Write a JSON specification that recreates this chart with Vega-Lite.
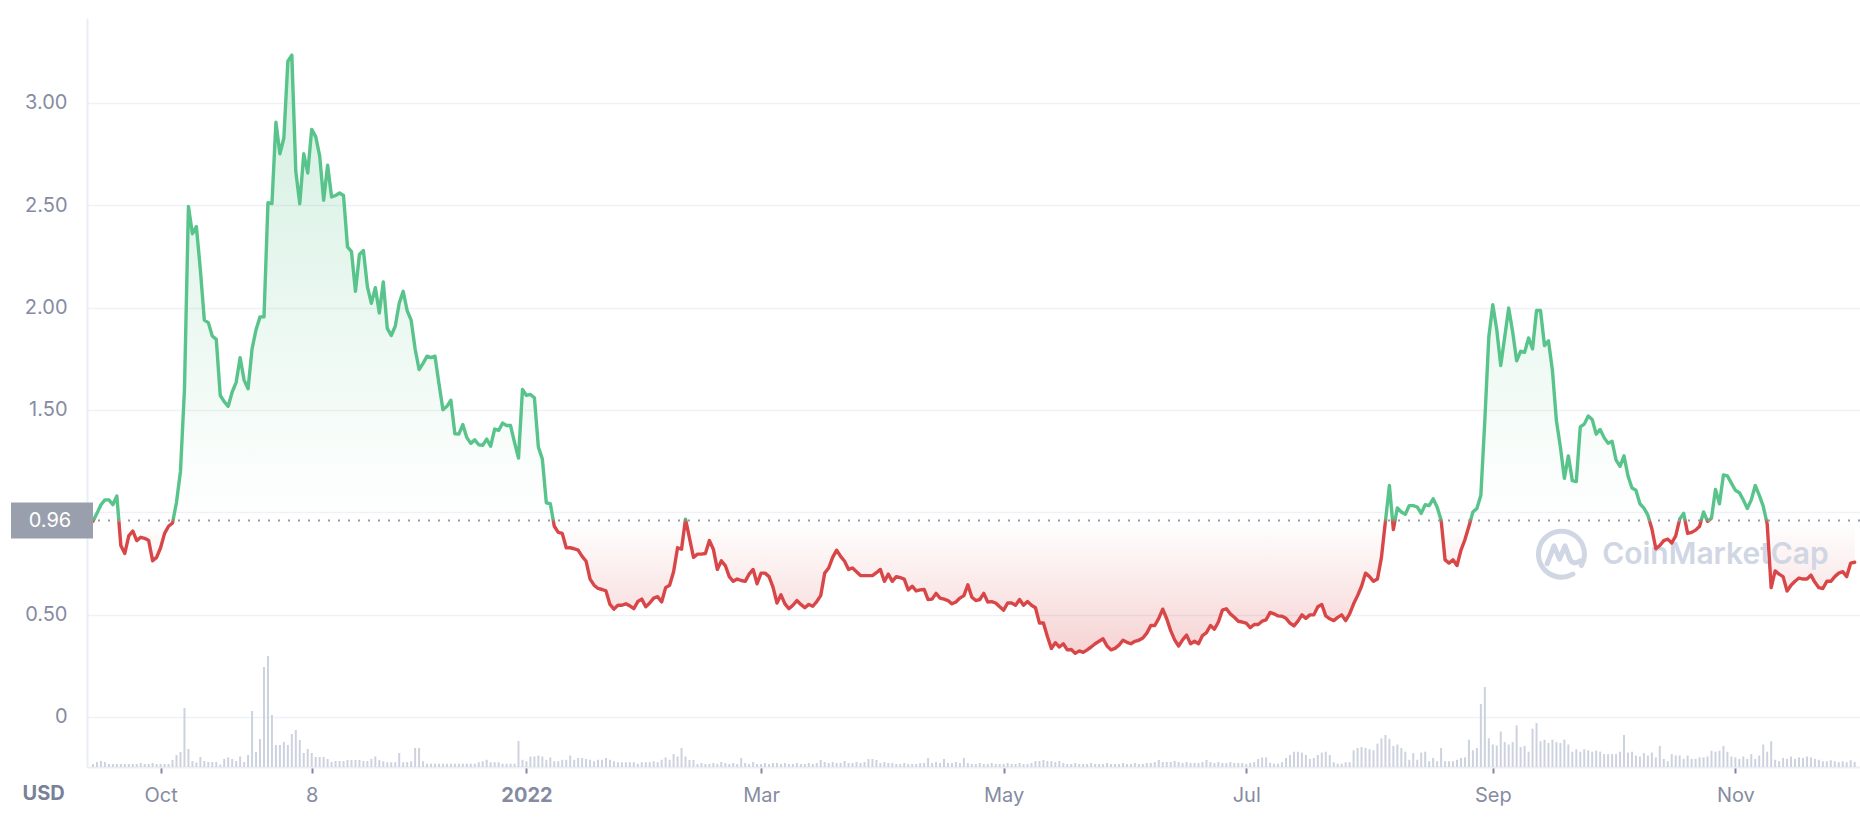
{
"$schema": "https://vega.github.io/schema/vega-lite/v6.json",
"width": 1773, "height": 749,
"autosize": {"type": "none"},
"padding": {"left": 87, "top": 18, "right": 0, "bottom": 51},
"background": "#ffffff",
"config": {"font": "Inter", "view": {"stroke": null}},
"data": {"values": [
{"d":"2021-09-14","p":0.956,"v":3},{"d":"2021-09-15","p":0.995,"v":5},{"d":"2021-09-16","p":1.037,"v":6},{"d":"2021-09-17","p":1.061,"v":5},{"d":"2021-09-18","p":1.061,"v":3},{"d":"2021-09-19","p":1.037,"v":3},{"d":"2021-09-20","p":1.080,"v":3},{"d":"2021-09-21","p":0.838,"v":3},{"d":"2021-09-22","p":0.799,"v":3},{"d":"2021-09-23","p":0.885,"v":3},{"d":"2021-09-24","p":0.909,"v":3},{"d":"2021-09-25","p":0.862,"v":3},{"d":"2021-09-26","p":0.878,"v":4},{"d":"2021-09-27","p":0.873,"v":3},{"d":"2021-09-28","p":0.862,"v":3},{"d":"2021-09-29","p":0.763,"v":4},{"d":"2021-09-30","p":0.780,"v":3},
{"d":"2021-10-01","p":0.827,"v":3},{"d":"2021-10-02","p":0.897,"v":3},{"d":"2021-10-03","p":0.932,"v":3},{"d":"2021-10-04","p":0.948,"v":7},{"d":"2021-10-05","p":1.049,"v":12},{"d":"2021-10-06","p":1.201,"v":15},{"d":"2021-10-07","p":1.60,"v":59},{"d":"2021-10-08","p":2.494,"v":18},{"d":"2021-10-09","p":2.361,"v":6},{"d":"2021-10-10","p":2.396,"v":4.5},{"d":"2021-10-11","p":2.185,"v":10},{"d":"2021-10-12","p":1.939,"v":6},{"d":"2021-10-13","p":1.927,"v":5},{"d":"2021-10-14","p":1.862,"v":5},{"d":"2021-10-15","p":1.845,"v":5},{"d":"2021-10-16","p":1.571,"v":2.5},{"d":"2021-10-17","p":1.541,"v":8},{"d":"2021-10-18","p":1.518,"v":9.6},{"d":"2021-10-19","p":1.588,"v":8},{"d":"2021-10-20","p":1.635,"v":6},{"d":"2021-10-21","p":1.756,"v":10.5},{"d":"2021-10-22","p":1.646,"v":5},{"d":"2021-10-23","p":1.604,"v":12},{"d":"2021-10-24","p":1.799,"v":56},{"d":"2021-10-25","p":1.892,"v":15},{"d":"2021-10-26","p":1.955,"v":28},{"d":"2021-10-27","p":1.955,"v":100},{"d":"2021-10-28","p":2.513,"v":111},{"d":"2021-10-29","p":2.508,"v":52},{"d":"2021-10-30","p":2.906,"v":22},{"d":"2021-10-31","p":2.752,"v":22},
{"d":"2021-11-01","p":2.829,"v":25},{"d":"2021-11-02","p":3.204,"v":22},{"d":"2021-11-03","p":3.234,"v":33},{"d":"2021-11-04","p":2.665,"v":37},{"d":"2021-11-05","p":2.508,"v":27},{"d":"2021-11-06","p":2.752,"v":14},{"d":"2021-11-07","p":2.658,"v":18},{"d":"2021-11-08","p":2.871,"v":14},{"d":"2021-11-09","p":2.836,"v":10},{"d":"2021-11-10","p":2.742,"v":10},{"d":"2021-11-11","p":2.525,"v":10},{"d":"2021-11-12","p":2.696,"v":8},{"d":"2021-11-13","p":2.541,"v":5},{"d":"2021-11-14","p":2.548,"v":6},{"d":"2021-11-15","p":2.560,"v":6},{"d":"2021-11-16","p":2.548,"v":6},{"d":"2021-11-17","p":2.297,"v":7},{"d":"2021-11-18","p":2.274,"v":7},{"d":"2021-11-19","p":2.080,"v":7},{"d":"2021-11-20","p":2.260,"v":7},{"d":"2021-11-21","p":2.279,"v":6},{"d":"2021-11-22","p":2.103,"v":6},{"d":"2021-11-23","p":2.021,"v":8},{"d":"2021-11-24","p":2.098,"v":10.5},{"d":"2021-11-25","p":1.974,"v":7},{"d":"2021-11-26","p":2.126,"v":5.7},{"d":"2021-11-27","p":1.899,"v":4.8},{"d":"2021-11-28","p":1.864,"v":4.8},{"d":"2021-11-29","p":1.909,"v":4.8},{"d":"2021-11-30","p":2.021,"v":14},
{"d":"2021-12-01","p":2.080,"v":4.8},{"d":"2021-12-02","p":1.986,"v":4.8},{"d":"2021-12-03","p":1.939,"v":5.7},{"d":"2021-12-04","p":1.799,"v":19},{"d":"2021-12-05","p":1.698,"v":19},{"d":"2021-12-06","p":1.728,"v":5.7},{"d":"2021-12-07","p":1.763,"v":3.3},{"d":"2021-12-08","p":1.756,"v":3.3},{"d":"2021-12-09","p":1.763,"v":3.3},{"d":"2021-12-10","p":1.628,"v":3.3},{"d":"2021-12-11","p":1.501,"v":3.3},{"d":"2021-12-12","p":1.518,"v":3.3},{"d":"2021-12-13","p":1.548,"v":3.3},{"d":"2021-12-14","p":1.384,"v":3.3},{"d":"2021-12-15","p":1.382,"v":3.3},{"d":"2021-12-16","p":1.429,"v":3.3},{"d":"2021-12-17","p":1.365,"v":3.3},{"d":"2021-12-18","p":1.337,"v":3.3},{"d":"2021-12-19","p":1.354,"v":3.3},{"d":"2021-12-20","p":1.330,"v":4.8},{"d":"2021-12-21","p":1.328,"v":5.7},{"d":"2021-12-22","p":1.358,"v":7.2},{"d":"2021-12-23","p":1.323,"v":4.8},{"d":"2021-12-24","p":1.407,"v":4.8},{"d":"2021-12-25","p":1.400,"v":4.8},{"d":"2021-12-26","p":1.436,"v":3.3},{"d":"2021-12-27","p":1.424,"v":3.3},{"d":"2021-12-28","p":1.424,"v":3.3},{"d":"2021-12-29","p":1.342,"v":3.3},{"d":"2021-12-30","p":1.265,"v":26},{"d":"2021-12-31","p":1.600,"v":7.2},
{"d":"2022-01-01","p":1.571,"v":5.7},{"d":"2022-01-02","p":1.576,"v":10.5},{"d":"2022-01-03","p":1.560,"v":10.5},{"d":"2022-01-04","p":1.319,"v":11.5},{"d":"2022-01-05","p":1.260,"v":10.5},{"d":"2022-01-06","p":1.046,"v":7.2},{"d":"2022-01-07","p":1.042,"v":9.6},{"d":"2022-01-08","p":0.932,"v":5.7},{"d":"2022-01-09","p":0.902,"v":5.7},{"d":"2022-01-10","p":0.897,"v":7.2},{"d":"2022-01-11","p":0.827,"v":7.2},{"d":"2022-01-12","p":0.827,"v":11.5},{"d":"2022-01-13","p":0.822,"v":7.2},{"d":"2022-01-14","p":0.815,"v":9},{"d":"2022-01-15","p":0.785,"v":9},{"d":"2022-01-16","p":0.761,"v":8},{"d":"2022-01-17","p":0.674,"v":7.2},{"d":"2022-01-18","p":0.644,"v":5.7},{"d":"2022-01-19","p":0.628,"v":7.2},{"d":"2022-01-20","p":0.623,"v":7.2},{"d":"2022-01-21","p":0.616,"v":9},{"d":"2022-01-22","p":0.550,"v":7.2},{"d":"2022-01-23","p":0.527,"v":5.7},{"d":"2022-01-24","p":0.546,"v":4.8},{"d":"2022-01-25","p":0.546,"v":4.8},{"d":"2022-01-26","p":0.553,"v":4.8},{"d":"2022-01-27","p":0.543,"v":4.8},{"d":"2022-01-28","p":0.529,"v":4.8},{"d":"2022-01-29","p":0.564,"v":3.3},{"d":"2022-01-30","p":0.576,"v":4.8},{"d":"2022-01-31","p":0.539,"v":4.8},
{"d":"2022-02-01","p":0.557,"v":4.8},{"d":"2022-02-02","p":0.581,"v":5.7},{"d":"2022-02-03","p":0.588,"v":4.8},{"d":"2022-02-04","p":0.562,"v":7.2},{"d":"2022-02-05","p":0.632,"v":9.6},{"d":"2022-02-06","p":0.644,"v":7.2},{"d":"2022-02-07","p":0.710,"v":13},{"d":"2022-02-08","p":0.827,"v":10.5},{"d":"2022-02-09","p":0.820,"v":19},{"d":"2022-02-10","p":0.967,"v":10.5},{"d":"2022-02-11","p":0.874,"v":7},{"d":"2022-02-12","p":0.780,"v":7},{"d":"2022-02-13","p":0.796,"v":3},{"d":"2022-02-14","p":0.796,"v":4},{"d":"2022-02-15","p":0.799,"v":3},{"d":"2022-02-16","p":0.862,"v":3},{"d":"2022-02-17","p":0.820,"v":4},{"d":"2022-02-18","p":0.721,"v":3},{"d":"2022-02-19","p":0.763,"v":5},{"d":"2022-02-20","p":0.740,"v":4},{"d":"2022-02-21","p":0.686,"v":3},{"d":"2022-02-22","p":0.663,"v":4},{"d":"2022-02-23","p":0.674,"v":3},{"d":"2022-02-24","p":0.667,"v":9},{"d":"2022-02-25","p":0.663,"v":4},{"d":"2022-02-26","p":0.698,"v":3},{"d":"2022-02-27","p":0.721,"v":5},{"d":"2022-02-28","p":0.651,"v":3},
{"d":"2022-03-01","p":0.703,"v":3},{"d":"2022-03-02","p":0.703,"v":4},{"d":"2022-03-03","p":0.686,"v":3},{"d":"2022-03-04","p":0.635,"v":4},{"d":"2022-03-05","p":0.557,"v":4},{"d":"2022-03-06","p":0.597,"v":3},{"d":"2022-03-07","p":0.553,"v":4},{"d":"2022-03-08","p":0.529,"v":3},{"d":"2022-03-09","p":0.546,"v":3},{"d":"2022-03-10","p":0.569,"v":4},{"d":"2022-03-11","p":0.550,"v":3},{"d":"2022-03-12","p":0.534,"v":3},{"d":"2022-03-13","p":0.550,"v":4},{"d":"2022-03-14","p":0.541,"v":3},{"d":"2022-03-15","p":0.564,"v":4},{"d":"2022-03-16","p":0.593,"v":7},{"d":"2022-03-17","p":0.703,"v":5},{"d":"2022-03-18","p":0.728,"v":4},{"d":"2022-03-19","p":0.780,"v":5},{"d":"2022-03-20","p":0.815,"v":4},{"d":"2022-03-21","p":0.785,"v":4},{"d":"2022-03-22","p":0.761,"v":6},{"d":"2022-03-23","p":0.721,"v":4},{"d":"2022-03-24","p":0.728,"v":4},{"d":"2022-03-25","p":0.710,"v":5},{"d":"2022-03-26","p":0.691,"v":4},{"d":"2022-03-27","p":0.691,"v":5},{"d":"2022-03-28","p":0.691,"v":8},{"d":"2022-03-29","p":0.691,"v":8},{"d":"2022-03-30","p":0.705,"v":7},{"d":"2022-03-31","p":0.721,"v":4},
{"d":"2022-04-01","p":0.663,"v":5},{"d":"2022-04-02","p":0.698,"v":4},{"d":"2022-04-03","p":0.663,"v":4},{"d":"2022-04-04","p":0.686,"v":3},{"d":"2022-04-05","p":0.681,"v":3},{"d":"2022-04-06","p":0.674,"v":4},{"d":"2022-04-07","p":0.621,"v":3},{"d":"2022-04-08","p":0.639,"v":3},{"d":"2022-04-09","p":0.616,"v":3},{"d":"2022-04-10","p":0.621,"v":4},{"d":"2022-04-11","p":0.623,"v":4},{"d":"2022-04-12","p":0.574,"v":9},{"d":"2022-04-13","p":0.576,"v":4},{"d":"2022-04-14","p":0.604,"v":5},{"d":"2022-04-15","p":0.581,"v":4},{"d":"2022-04-16","p":0.576,"v":8},{"d":"2022-04-17","p":0.569,"v":4},{"d":"2022-04-18","p":0.553,"v":4},{"d":"2022-04-19","p":0.562,"v":5},{"d":"2022-04-20","p":0.581,"v":4},{"d":"2022-04-21","p":0.593,"v":9},{"d":"2022-04-22","p":0.646,"v":4},{"d":"2022-04-23","p":0.585,"v":3},{"d":"2022-04-24","p":0.569,"v":3},{"d":"2022-04-25","p":0.574,"v":4},{"d":"2022-04-26","p":0.604,"v":3},{"d":"2022-04-27","p":0.562,"v":3},{"d":"2022-04-28","p":0.564,"v":4},{"d":"2022-04-29","p":0.557,"v":3},{"d":"2022-04-30","p":0.539,"v":3},
{"d":"2022-05-01","p":0.522,"v":3},{"d":"2022-05-02","p":0.557,"v":4},{"d":"2022-05-03","p":0.557,"v":3},{"d":"2022-05-04","p":0.546,"v":3},{"d":"2022-05-05","p":0.574,"v":4},{"d":"2022-05-06","p":0.546,"v":3},{"d":"2022-05-07","p":0.564,"v":3},{"d":"2022-05-08","p":0.546,"v":4},{"d":"2022-05-09","p":0.534,"v":6},{"d":"2022-05-10","p":0.459,"v":6},{"d":"2022-05-11","p":0.459,"v":7},{"d":"2022-05-12","p":0.393,"v":6},{"d":"2022-05-13","p":0.335,"v":6},{"d":"2022-05-14","p":0.363,"v":5},{"d":"2022-05-15","p":0.342,"v":6},{"d":"2022-05-16","p":0.358,"v":4},{"d":"2022-05-17","p":0.328,"v":3},{"d":"2022-05-18","p":0.330,"v":3},{"d":"2022-05-19","p":0.311,"v":4},{"d":"2022-05-20","p":0.323,"v":3},{"d":"2022-05-21","p":0.316,"v":3},{"d":"2022-05-22","p":0.328,"v":3},{"d":"2022-05-23","p":0.342,"v":4},{"d":"2022-05-24","p":0.358,"v":3},{"d":"2022-05-25","p":0.370,"v":3},{"d":"2022-05-26","p":0.382,"v":3},{"d":"2022-05-27","p":0.347,"v":4},{"d":"2022-05-28","p":0.328,"v":3},{"d":"2022-05-29","p":0.335,"v":3},{"d":"2022-05-30","p":0.351,"v":3},{"d":"2022-05-31","p":0.375,"v":4},
{"d":"2022-06-01","p":0.365,"v":3},{"d":"2022-06-02","p":0.358,"v":3},{"d":"2022-06-03","p":0.370,"v":4},{"d":"2022-06-04","p":0.375,"v":3},{"d":"2022-06-05","p":0.386,"v":3},{"d":"2022-06-06","p":0.410,"v":4},{"d":"2022-06-07","p":0.447,"v":4},{"d":"2022-06-08","p":0.447,"v":5},{"d":"2022-06-09","p":0.482,"v":7},{"d":"2022-06-10","p":0.527,"v":5},{"d":"2022-06-11","p":0.480,"v":5},{"d":"2022-06-12","p":0.422,"v":5},{"d":"2022-06-13","p":0.377,"v":6},{"d":"2022-06-14","p":0.347,"v":5},{"d":"2022-06-15","p":0.377,"v":4},{"d":"2022-06-16","p":0.400,"v":5},{"d":"2022-06-17","p":0.358,"v":4},{"d":"2022-06-18","p":0.370,"v":4},{"d":"2022-06-19","p":0.358,"v":4},{"d":"2022-06-20","p":0.398,"v":5},{"d":"2022-06-21","p":0.412,"v":7},{"d":"2022-06-22","p":0.447,"v":5},{"d":"2022-06-23","p":0.429,"v":4},{"d":"2022-06-24","p":0.464,"v":5},{"d":"2022-06-25","p":0.522,"v":4},{"d":"2022-06-26","p":0.529,"v":4},{"d":"2022-06-27","p":0.504,"v":5},{"d":"2022-06-28","p":0.487,"v":4},{"d":"2022-06-29","p":0.468,"v":4},{"d":"2022-06-30","p":0.464,"v":4},
{"d":"2022-07-01","p":0.459,"v":3},{"d":"2022-07-02","p":0.436,"v":4},{"d":"2022-07-03","p":0.452,"v":5},{"d":"2022-07-04","p":0.452,"v":8},{"d":"2022-07-05","p":0.468,"v":9.6},{"d":"2022-07-06","p":0.475,"v":9.6},{"d":"2022-07-07","p":0.511,"v":4.3},{"d":"2022-07-08","p":0.504,"v":3.3},{"d":"2022-07-09","p":0.494,"v":3.3},{"d":"2022-07-10","p":0.492,"v":4.8},{"d":"2022-07-11","p":0.482,"v":9},{"d":"2022-07-12","p":0.459,"v":12},{"d":"2022-07-13","p":0.445,"v":15.3},{"d":"2022-07-14","p":0.468,"v":15.3},{"d":"2022-07-15","p":0.499,"v":14.4},{"d":"2022-07-16","p":0.482,"v":12},{"d":"2022-07-17","p":0.499,"v":8.1},{"d":"2022-07-18","p":0.499,"v":9},{"d":"2022-07-19","p":0.539,"v":12},{"d":"2022-07-20","p":0.550,"v":14.4},{"d":"2022-07-21","p":0.494,"v":15.3},{"d":"2022-07-22","p":0.480,"v":12},{"d":"2022-07-23","p":0.471,"v":4.8},{"d":"2022-07-24","p":0.487,"v":3.3},{"d":"2022-07-25","p":0.499,"v":3.3},{"d":"2022-07-26","p":0.471,"v":4.8},{"d":"2022-07-27","p":0.504,"v":4.8},{"d":"2022-07-28","p":0.553,"v":16.7},{"d":"2022-07-29","p":0.593,"v":19},{"d":"2022-07-30","p":0.639,"v":20},{"d":"2022-07-31","p":0.703,"v":19},
{"d":"2022-08-01","p":0.686,"v":17.7},{"d":"2022-08-02","p":0.663,"v":16.7},{"d":"2022-08-03","p":0.674,"v":23.4},{"d":"2022-08-04","p":0.780,"v":28.7},{"d":"2022-08-05","p":0.956,"v":32},{"d":"2022-08-06","p":1.131,"v":28.2},{"d":"2022-08-07","p":0.916,"v":21.1},{"d":"2022-08-08","p":1.021,"v":22.5},{"d":"2022-08-09","p":1.002,"v":19},{"d":"2022-08-10","p":0.991,"v":15.3},{"d":"2022-08-11","p":1.033,"v":7.2},{"d":"2022-08-12","p":1.033,"v":13.9},{"d":"2022-08-13","p":1.026,"v":7.2},{"d":"2022-08-14","p":0.995,"v":14.4},{"d":"2022-08-15","p":1.037,"v":15.3},{"d":"2022-08-16","p":1.033,"v":5.7},{"d":"2022-08-17","p":1.066,"v":9},{"d":"2022-08-18","p":1.026,"v":5.7},{"d":"2022-08-19","p":0.963,"v":19},{"d":"2022-08-20","p":0.768,"v":5.7},{"d":"2022-08-21","p":0.752,"v":5.7},{"d":"2022-08-22","p":0.768,"v":5.7},{"d":"2022-08-23","p":0.740,"v":7.2},{"d":"2022-08-24","p":0.815,"v":9},{"d":"2022-08-25","p":0.867,"v":9.6},{"d":"2022-08-26","p":0.932,"v":27.3},{"d":"2022-08-27","p":1.002,"v":16.7},{"d":"2022-08-28","p":1.019,"v":19},{"d":"2022-08-29","p":1.084,"v":63},{"d":"2022-08-30","p":1.45,"v":80},{"d":"2022-08-31","p":1.857,"v":28.7},
{"d":"2022-09-01","p":2.014,"v":22.5},{"d":"2022-09-02","p":1.892,"v":21.5},{"d":"2022-09-03","p":1.717,"v":35.4},{"d":"2022-09-04","p":1.857,"v":24.9},{"d":"2022-09-05","p":1.998,"v":22.5},{"d":"2022-09-06","p":1.881,"v":24.9},{"d":"2022-09-07","p":1.740,"v":41.6},{"d":"2022-09-08","p":1.787,"v":20},{"d":"2022-09-09","p":1.782,"v":21.1},{"d":"2022-09-10","p":1.852,"v":15.3},{"d":"2022-09-11","p":1.799,"v":38.3},{"d":"2022-09-12","p":1.986,"v":44},{"d":"2022-09-13","p":1.986,"v":25.8},{"d":"2022-09-14","p":1.815,"v":27.3},{"d":"2022-09-15","p":1.838,"v":24},{"d":"2022-09-16","p":1.693,"v":27.3},{"d":"2022-09-17","p":1.447,"v":24.9},{"d":"2022-09-18","p":1.319,"v":24},{"d":"2022-09-19","p":1.166,"v":27.3},{"d":"2022-09-20","p":1.276,"v":22.5},{"d":"2022-09-21","p":1.155,"v":15.3},{"d":"2022-09-22","p":1.150,"v":17.7},{"d":"2022-09-23","p":1.417,"v":15.3},{"d":"2022-09-24","p":1.431,"v":17.7},{"d":"2022-09-25","p":1.471,"v":16.7},{"d":"2022-09-26","p":1.454,"v":15.3},{"d":"2022-09-27","p":1.382,"v":16.3},{"d":"2022-09-28","p":1.405,"v":15.3},{"d":"2022-09-29","p":1.365,"v":12.9},{"d":"2022-09-30","p":1.337,"v":12.9},
{"d":"2022-10-01","p":1.347,"v":12.9},{"d":"2022-10-02","p":1.255,"v":12.9},{"d":"2022-10-03","p":1.225,"v":15.3},{"d":"2022-10-04","p":1.276,"v":32},{"d":"2022-10-05","p":1.178,"v":14.4},{"d":"2022-10-06","p":1.119,"v":15.3},{"d":"2022-10-07","p":1.108,"v":11.5},{"d":"2022-10-08","p":1.042,"v":10.5},{"d":"2022-10-09","p":1.021,"v":13.9},{"d":"2022-10-10","p":0.986,"v":11.5},{"d":"2022-10-11","p":0.920,"v":14.4},{"d":"2022-10-12","p":0.822,"v":9.6},{"d":"2022-10-13","p":0.838,"v":21.1},{"d":"2022-10-14","p":0.862,"v":8.1},{"d":"2022-10-15","p":0.869,"v":5.7},{"d":"2022-10-16","p":0.850,"v":12.9},{"d":"2022-10-17","p":0.885,"v":11.5},{"d":"2022-10-18","p":0.967,"v":11.5},{"d":"2022-10-19","p":0.995,"v":8.1},{"d":"2022-10-20","p":0.897,"v":11.5},{"d":"2022-10-21","p":0.902,"v":8.1},{"d":"2022-10-22","p":0.913,"v":8.1},{"d":"2022-10-23","p":0.932,"v":9.6},{"d":"2022-10-24","p":1.002,"v":9.6},{"d":"2022-10-25","p":0.956,"v":10.5},{"d":"2022-10-26","p":0.972,"v":16.3},{"d":"2022-10-27","p":1.112,"v":15.3},{"d":"2022-10-28","p":1.042,"v":16.3},{"d":"2022-10-29","p":1.183,"v":21.1},{"d":"2022-10-30","p":1.178,"v":15.3},{"d":"2022-10-31","p":1.143,"v":10.5},
{"d":"2022-11-01","p":1.108,"v":9.6},{"d":"2022-11-02","p":1.096,"v":8.1},{"d":"2022-11-03","p":1.061,"v":10.5},{"d":"2022-11-04","p":1.019,"v":8.1},{"d":"2022-11-05","p":1.061,"v":12.9},{"d":"2022-11-06","p":1.131,"v":8.1},{"d":"2022-11-07","p":1.084,"v":11.5},{"d":"2022-11-08","p":1.030,"v":22.5},{"d":"2022-11-09","p":0.944,"v":15.3},{"d":"2022-11-10","p":0.632,"v":25.8},{"d":"2022-11-11","p":0.714,"v":7.2},{"d":"2022-11-12","p":0.698,"v":5.7},{"d":"2022-11-13","p":0.686,"v":9},{"d":"2022-11-14","p":0.616,"v":8.1},{"d":"2022-11-15","p":0.644,"v":10.5},{"d":"2022-11-16","p":0.663,"v":8.1},{"d":"2022-11-17","p":0.679,"v":9.6},{"d":"2022-11-18","p":0.674,"v":9},{"d":"2022-11-19","p":0.674,"v":10.5},{"d":"2022-11-20","p":0.693,"v":9.6},{"d":"2022-11-21","p":0.658,"v":8.1},{"d":"2022-11-22","p":0.632,"v":7.2},{"d":"2022-11-23","p":0.628,"v":5.7},{"d":"2022-11-24","p":0.663,"v":5.7},{"d":"2022-11-25","p":0.663,"v":6.7},{"d":"2022-11-26","p":0.686,"v":5.7},{"d":"2022-11-27","p":0.703,"v":4.8},{"d":"2022-11-28","p":0.710,"v":5.7},{"d":"2022-11-29","p":0.686,"v":4.8},{"d":"2022-11-30","p":0.752,"v":6.7},
{"d":"2022-12-01","p":0.756,"v":5}
]},
"layer": [
 {
  "mark": {"type": "bar", "width": 2, "color": "#cdd2df"},
  "encoding": {
   "x": {"field": "d", "type": "temporal",
    "scale": {"domain": [{"year":2021,"month":9,"date":13,"hours":18,"utc":true},{"year":2022,"month":12,"date":1,"hours":2,"utc":true}], "nice": false},
    "axis": {
     "title": "USD", "titleFontWeight": 700, "titleFontSize": 20, "titleColor": "#7a8196", "titleFont": "Inter",
     "titleX": -65, "titleY": 26, "titleAlign": "left", "titleBaseline": "middle", "titleAngle": 0,
     "values": [{"year":2021,"month":10,"date":1,"utc":true},{"year":2021,"month":11,"date":8,"utc":true},{"year":2022,"month":1,"date":1,"utc":true},{"year":2022,"month":3,"date":1,"utc":true},{"year":2022,"month":5,"date":1,"utc":true},{"year":2022,"month":7,"date":1,"utc":true},{"year":2022,"month":9,"date":1,"utc":true},{"year":2022,"month":11,"date":1,"utc":true}],
     "labelExpr": "utcFormat(datum.value,'%m-%d') == '11-08' ? '8' : (utcFormat(datum.value,'%m-%d') == '01-01' ? utcFormat(datum.value,'%Y') : utcFormat(datum.value,'%b'))",
     "labelFontSize": 20, "labelColor": "#858ca2", "labelFont": "Inter",
     "labelFontWeight": {"condition": {"test": "utcFormat(datum.value,'%m-%d') == '01-01'", "value": 700}, "value": 400},
     "labelPadding": 12, "tickSize": 6, "tickColor": "#7f879c", "tickWidth": 2,
     "domainColor": "#eceef3", "domainWidth": 2, "grid": false, "labelFlush": false, "labelOverlap": false
    }
   },
   "y": {"field": "v", "type": "quantitative", "scale": {"domain": [0, 749], "nice": false}, "axis": null}
  }
 },
 {
  "layer": [
   {
    "mark": {"type": "area", "line": false,
     "fill": {"gradient": "linear", "x1": 0, "y1": 0, "x2": 0, "y2": 1,
      "stops": [
       {"offset": 0, "color": "rgba(88,196,139,0.27)"},
       {"offset": 0.778, "color": "rgba(88,196,139,0.0)"},
       {"offset": 0.778, "color": "rgba(217,70,72,0.0)"},
       {"offset": 1, "color": "rgba(217,70,72,0.24)"}
      ]}},
    "encoding": {
     "x": {"field": "d", "type": "temporal"},
     "y": {"field": "p", "type": "quantitative",
      "scale": {"domain": [-0.2443, 3.4153], "nice": false, "zero": false},
      "axis": {"title": null, "values": [0, 0.5, 1, 1.5, 2, 2.5, 3],
       "labelExpr": "datum.value == 0 ? '0' : (datum.value == 1 ? '' : format(datum.value, '.2f'))",
       "labelFontSize": 20, "labelColor": "#858ca2", "labelFont": "Inter", "labelPadding": 20,
       "ticks": false, "tickSize": 0, "domainColor": "#eceef3", "domainWidth": 2,
       "grid": true, "gridColor": "#eff1f5", "gridWidth": 1.6}},
     "y2": {"datum": 0.96}
    }
   },
   {
    "data": {"values": [{}]},
    "mark": {"type": "text", "text": "CoinMarketCap", "fontSize": 30, "fontWeight": 600, "font": "Inter", "color": "#d0d6e3", "align": "left", "baseline": "middle"},
    "encoding": {
     "x": {"datum": {"year":2022,"month":9,"date":28,"hours":12,"utc":true}, "type": "temporal"},
     "y": {"datum": 0.791, "type": "quantitative"}
    }
   },
   {
    "data": {"values": [{}]},
    "mark": {"type": "point", "shape": "M0.87,0.5 A1,1 0 1,0 0.5,0.87 M-0.62,0.42 L-0.32,-0.36 L-0.08,0.22 L0.16,-0.36 L0.36,0.2 Q0.5,0.5 0.8,0.3", "size": 2116, "filled": false, "stroke": "#d0d6e3", "strokeWidth": 5, "strokeCap": "round", "strokeJoin": "round", "opacity": 1},
    "encoding": {
     "x": {"datum": {"year":2022,"month":9,"date":18,"hours":6,"utc":true}, "type": "temporal"},
     "y": {"datum": 0.796, "type": "quantitative"}
    }
   },
   {
    "mark": {"type": "line", "strokeWidth": 3.4, "strokeJoin": "round", "strokeCap": "round",
     "stroke": {"gradient": "linear", "x1": 0, "y1": 0, "x2": 0, "y2": 1,
      "stops": [
       {"offset": 0, "color": "#58c48b"},
       {"offset": 0.774, "color": "#58c48b"},
       {"offset": 0.782, "color": "#d94648"},
       {"offset": 1, "color": "#d94648"}
      ]}},
    "encoding": {
     "x": {"field": "d", "type": "temporal"},
     "y": {"field": "p", "type": "quantitative"}
    }
   },
   {
    "data": {"values": [{}]},
    "mark": {"type": "rule", "color": "#9499a9", "strokeDash": [2, 8], "strokeWidth": 2},
    "encoding": {"y": {"datum": 0.96, "type": "quantitative"}}
   },
   {
    "data": {"values": [{}]},
    "mark": {"type": "rect", "color": "#9a9fad", "xOffset": -81, "x2Offset": 1, "yOffset": -18, "y2Offset": 18},
    "encoding": {
     "x": {"datum": {"year":2021,"month":9,"date":13,"hours":18,"utc":true}, "type": "temporal"},
     "x2": {"datum": {"year":2021,"month":9,"date":13,"hours":18,"utc":true}},
     "y": {"datum": 0.96, "type": "quantitative"},
     "y2": {"datum": 0.96}
    }
   },
   {
    "data": {"values": [{}]},
    "mark": {"type": "text", "text": "0.96", "color": "#ffffff", "fontSize": 20, "font": "Inter", "align": "center", "baseline": "middle", "dx": -42},
    "encoding": {
     "x": {"datum": {"year":2021,"month":9,"date":13,"hours":18,"utc":true}, "type": "temporal"},
     "y": {"datum": 0.96, "type": "quantitative"}
    }
   }
  ]
 }
],
"resolve": {"scale": {"y": "independent"}}
}
